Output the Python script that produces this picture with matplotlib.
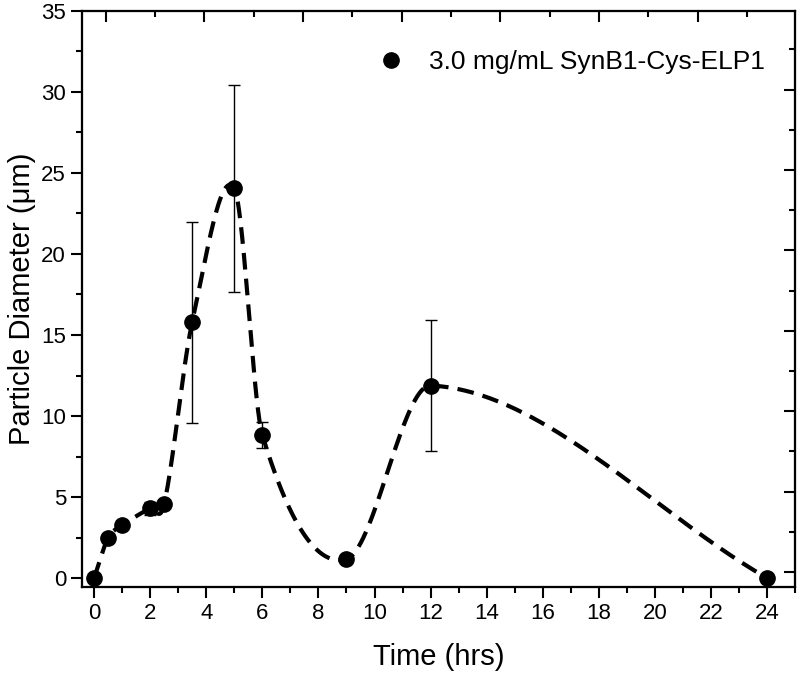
import numpy as np
import matplotlib
matplotlib.use("Agg")
import matplotlib.pyplot as plt
from matplotlib.ticker import MultipleLocator

plt.rcParams['font.family'] = ['Liberation Sans', 'DejaVu Sans']

time_hrs = [0, 0.5, 1, 2, 2.5, 3.5, 5, 6, 9, 12, 24]
diameter = [0.0, 2.47, 3.25, 4.3, 4.57, 15.8, 24.05, 8.83, 1.17, 11.88, 0.0]
err = [0.0, 0.0, 0.0, 0.4, 0.15, 6.2, 6.4, 0.78, 0.0, 4.05, 0.0]
label = "3.0 mg/mL SynB1-Cys-ELP1"


def cardinal_curve(x, y, n=120):
    """Cubic Hermite curve through the points, slopes from central differences."""
    x = np.asarray(x, float); y = np.asarray(y, float)
    m = np.empty_like(y)
    m[1:-1] = (y[2:] - y[:-2]) / (x[2:] - x[:-2])
    m[0] = (y[1] - y[0]) / (x[1] - x[0])
    m[-1] = (y[-1] - y[-2]) / (x[-1] - x[-2])
    s = np.linspace(0, 1, n)
    h00 = 2 * s**3 - 3 * s**2 + 1; h10 = s**3 - 2 * s**2 + s
    h01 = -2 * s**3 + 3 * s**2; h11 = s**3 - s**2
    xs, ys = [], []
    for i in range(len(x) - 1):
        h = x[i + 1] - x[i]
        xs.append(x[i] + s * h)
        ys.append(h00 * y[i] + h10 * h * m[i] + h01 * y[i + 1] + h11 * h * m[i + 1])
    return np.concatenate(xs), np.concatenate(ys)


fig = plt.figure(figsize=(8, 6.79), dpi=100)
ax = fig.add_axes([0.1025, 0.1355, 0.8915, 0.8485])

cx, cy = cardinal_curve(time_hrs, diameter)
ax.plot(cx, cy, color='black', lw=3, linestyle=(0, (4, 2.2)), zorder=2)

ax.errorbar(time_hrs, diameter, yerr=err, fmt='none', ecolor='black',
            elinewidth=1, capsize=4.5, capthick=1, zorder=3)
ax.plot(time_hrs, diameter, 'o', color='black', markersize=11, zorder=4,
        label=label)

ax.set_xlim(-0.43, 25.0)
ax.set_ylim(-0.55, 35)
ax.xaxis.set_major_locator(MultipleLocator(2))
ax.xaxis.set_minor_locator(MultipleLocator(1))
ax.yaxis.set_major_locator(MultipleLocator(5))
ax.yaxis.set_minor_locator(MultipleLocator(2.5))
ax.tick_params(which='major', direction='out', length=8, width=1.5, labelsize=16)
ax.tick_params(which='minor', direction='out', length=4, width=1.5)
for s in ax.spines.values():
    s.set_linewidth(1.5)

ax.set_xlabel("Time (hrs)", fontsize=21, labelpad=14)
ax.set_ylabel("Particle Diameter (\u03bcm)", fontsize=21, labelpad=4)

# top and right axes with inward ticks, as in the original figure
axt = ax.twiny()
axt.set_xlim(-0.24, 6.99)
axt.xaxis.set_major_locator(MultipleLocator(1))
axt.xaxis.set_minor_locator(MultipleLocator(0.5))
axt.tick_params(axis='x', which='major', direction='in', length=8, width=1.5, labeltop=False)
axt.tick_params(axis='x', which='minor', direction='in', length=4, width=1.5)
axr = ax.twinx()
axr.set_ylim(-0.93, 34.9)
axr.yaxis.set_major_locator(MultipleLocator(5))
axr.yaxis.set_minor_locator(MultipleLocator(2.5))
axr.tick_params(axis='y', which='major', direction='in', length=8, width=1.5, labelright=False)
axr.tick_params(axis='y', which='minor', direction='in', length=4, width=1.5)
for a in (axt, axr):
    for s in a.spines.values():
        s.set_linewidth(1.5)

ax.legend(loc='upper right', frameon=False, fontsize=19, handletextpad=0.45,
          numpoints=1, bbox_to_anchor=(0.9727, 0.9505), borderaxespad=0)

fig.savefig("out.png", dpi=100)
